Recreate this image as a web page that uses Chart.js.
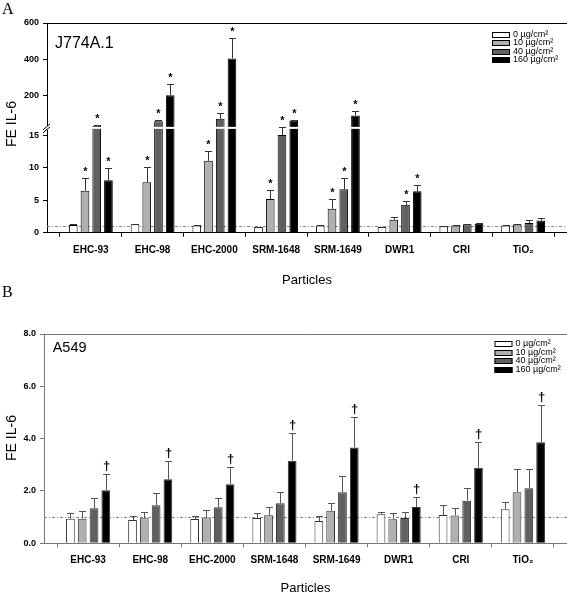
<!DOCTYPE html>
<html>
<head>
<meta charset="utf-8">
<script src="https://cdn.jsdelivr.net/npm/chart.js@4.4.0/dist/chart.umd.min.js"></script>
<style>
  body { margin: 0; background: #fff; width: 567px; height: 594px; position: relative; overflow: hidden; }
  .letter { position: absolute; left: 2px; font-family: "Liberation Serif", "Times New Roman", serif; font-size: 16px; line-height: 16px; }
  canvas { position: absolute; left: 0; }
</style>
</head>
<body>
<div class="letter" style="top:1px">A</div>
<canvas id="chartA" width="567" height="290" style="top:0"></canvas>
<div class="letter" style="top:284px">B</div>
<canvas id="chartB" width="567" height="308" style="top:290px"></canvas>
<script>
// categories and doses
const particles = ['EHC-93', 'EHC-98', 'EHC-2000', 'SRM-1648', 'SRM-1649', 'DWR1', 'CRI', 'TiO\u2082'];
const doses = ['0 \u00b5g/cm\u00b2', '10 \u00b5g/cm\u00b2', '40 \u00b5g/cm\u00b2', '160 \u00b5g/cm\u00b2'];
const doseColors = ['#ffffff', '#b0b0b0', '#606060', '#000000'];

// panel A - J774A.1 (fold change IL-6)
const j774_0   = [1.2, 1.3, 1.1, 0.9, 1.1, 0.9, 1.0, 1.1];
const j774_10  = [6.5, 7.8, 11.1, 5.2, 3.7, 2.0, 1.1, 1.25];
const j774_40  = [31, 57, 70, 15.1, 6.7, 4.3, 1.3, 1.5];
const j774_160 = [8.1, 200, 404, 61, 89, 6.4, 1.4, 1.9];
const j774Err_0   = [0.1, 0.1, 0.05, 0.05, 0.05, 0.05, 0.05, 0.1];
const j774Err_10  = [1.9, 2.3, 1.6, 1.4, 1.5, 0.5, 0.05, 0.1];
const j774Err_40  = [2, 9, 33, 12, 1.8, 0.6, 0.1, 0.4];
const j774Err_160 = [1.9, 65, 111, 5, 24, 0.9, 0.1, 0.3];
const j774Star_0   = [0, 0, 0, 0, 0, 0, 0, 0];
const j774Star_10  = [1, 1, 1, 1, 1, 0, 0, 0];
const j774Star_40  = [1, 1, 1, 1, 1, 1, 0, 0];
const j774Star_160 = [1, 1, 1, 1, 1, 1, 0, 0];
const j774LowTicks  = [0, 5, 10, 15];
const j774HighTicks = [200, 400, 600];

// panel B - A549
const a549_0   = [0.94, 0.89, 0.93, 0.97, 0.85, 1.11, 1.08, 1.30];
const a549_10  = [0.94, 0.96, 0.99, 1.07, 1.24, 0.92, 1.06, 1.95];
const a549_40  = [1.34, 1.45, 1.38, 1.53, 1.95, 0.97, 1.63, 2.10];
const a549_160 = [2.03, 2.45, 2.26, 3.16, 3.66, 1.39, 2.89, 3.86];
const a549Err_0   = [0.23, 0.17, 0.10, 0.18, 0.19, 0.10, 0.37, 0.29];
const a549Err_10  = [0.28, 0.23, 0.27, 0.32, 0.29, 0.23, 0.30, 0.88];
const a549Err_40  = [0.38, 0.46, 0.34, 0.44, 0.62, 0.24, 0.50, 0.73];
const a549Err_160 = [0.61, 0.71, 0.67, 1.04, 1.16, 0.39, 0.97, 1.42];
const a549Dag_0   = [0, 0, 0, 0, 0, 0, 0, 0];
const a549Dag_160 = [1, 1, 1, 1, 1, 1, 1, 1];

const LOW_MAX = 16.2, HIGH_MIN = 20;   // broken axis in panel A
const X_PAD = 0.21;                    // extra room either side of the categories
const FONT = '"Liberation Sans", Arial, sans-serif';

Chart.defaults.font.family = FONT;
Chart.defaults.color = '#000';

function toPix(chart, v) {
  const s = chart.scales;
  if (s.yLow) {
    if (v <= LOW_MAX) return s.yLow.getPixelForValue(v);
    if (v >= HIGH_MIN) return s.yHigh.getPixelForValue(v);
    return s.yLow.top;
  }
  return s.y.getPixelForValue(v);
}

function xAxis(axisColor, tickPad, height) {
  return {
    type: 'category',
    offset: true,
    grid: { offset: true, drawOnChartArea: false, tickLength: 4, tickColor: axisColor },
    border: { color: axisColor },
    ticks: { font: { weight: 'bold', size: 10 }, padding: tickPad, maxRotation: 0, autoSkip: false },
    title: { display: true, text: 'Particles', font: { size: 13 }, padding: { top: 0, bottom: 2 } },
    afterBuildTicks: s => { s._startValue = -0.5 - X_PAD; s._valueRange = s.ticks.length + 2 * X_PAD; },
    afterFit: s => { s.height = height; }
  };
}

function yAxis(axisColor, width, extra) {
  return Object.assign({
    type: 'linear',
    position: 'left',
    stacked: false,
    grid: { drawOnChartArea: false, tickLength: 4, tickColor: axisColor },
    border: { color: axisColor },
    ticks: { font: { weight: 'bold', size: 9 }, padding: 4 },
    afterFit: s => { s.width = width; }
  }, extra);
}

function makeDecor(cfg) {
  return {
    id: 'decor',
    beforeDatasetsDraw(chart) {
      const { ctx, chartArea: a } = chart;
      const y1 = Math.round(toPix(chart, 1)) + 0.5;
      ctx.save();
      ctx.strokeStyle = '#888';
      ctx.lineWidth = 1;
      ctx.setLineDash([3, 2, 1, 2]);
      ctx.beginPath(); ctx.moveTo(a.left, y1); ctx.lineTo(a.right, y1); ctx.stroke();
      ctx.restore();
    },
    afterDatasetsDraw(chart) {
      const { ctx, chartArea: a } = chart;
      ctx.save();
      if (chart.scales.yLow) {
        const gy = chart.scales.yLow.top;
        ctx.fillStyle = '#fff';
        ctx.fillRect(a.left + 1, gy - 1, a.right - a.left, 2);
      }
      ctx.strokeStyle = cfg.errColor;
      ctx.lineWidth = 1;
      cfg.series.forEach((vals, k) => {
        const meta = chart.getDatasetMeta(cfg.dsIndex(k));
        vals.forEach((v, i) => {
          const bar = meta.data[i];
          const x = Math.round(bar.x) + 0.5;
          const yb = toPix(chart, v);
          const yt = Math.round(toPix(chart, v + cfg.errors[k][i])) + 0.5;
          ctx.beginPath();
          ctx.moveTo(x, yb); ctx.lineTo(x, yt);
          ctx.moveTo(x - 3.5, yt); ctx.lineTo(x + 3.5, yt);
          ctx.stroke();
          if (cfg.marks[k][i]) {
            ctx.fillStyle = '#000';
            ctx.font = cfg.markFont;
            ctx.textAlign = 'center';
            ctx.textBaseline = 'middle';
            ctx.fillText(cfg.markChar, x, yt - cfg.markOffset);
          }
        });
      });
      ctx.restore();
    },
    afterDraw(chart) {
      const { ctx, chartArea: a } = chart;
      ctx.save();
      // top frame line
      ctx.strokeStyle = cfg.axisColor;
      ctx.lineWidth = 1;
      ctx.beginPath(); ctx.moveTo(a.left, a.top + 0.5); ctx.lineTo(a.right, a.top + 0.5); ctx.stroke();
      // axis break marks
      if (chart.scales.yLow) {
        const gy = chart.scales.yLow.top;
        const ax = a.left;
        ctx.fillStyle = '#fff';
        ctx.fillRect(ax - 1, gy - 2, 3, 4);
        ctx.strokeStyle = '#000';
        ctx.beginPath();
        ctx.moveTo(ax - 4, gy + 2); ctx.lineTo(ax + 3, gy - 4);
        ctx.moveTo(ax - 4, gy + 5); ctx.lineTo(ax + 3, gy - 1);
        ctx.stroke();
      }
      // cell line label
      ctx.fillStyle = '#000';
      ctx.font = cfg.labelFont;
      ctx.textAlign = 'left';
      ctx.textBaseline = 'alphabetic';
      ctx.fillText(cfg.label, cfg.labelX, cfg.labelY);
      // y title
      ctx.save();
      ctx.translate(12.5, cfg.yTitleY);
      ctx.rotate(-Math.PI / 2);
      ctx.textAlign = 'center';
      ctx.textBaseline = 'middle';
      ctx.font = '14px ' + FONT;
      ctx.fillText('FE IL-6', 0, 0);
      ctx.restore();
      // legend
      doses.forEach((d, k) => {
        const cy = Math.round(cfg.legY + k * cfg.legDy);
        ctx.fillStyle = doseColors[k];
        ctx.fillRect(cfg.legX, cy - 3, 18, 6);
        ctx.strokeStyle = '#000';
        ctx.strokeRect(cfg.legX + 0.5, cy - 2.5, 17, 5);
        ctx.fillStyle = '#000';
        ctx.font = '9px ' + FONT;
        ctx.textBaseline = 'middle';
        ctx.fillText(d, cfg.legX + 21, cy);
      });
      ctx.restore();
    }
  };
}

// ---------- panel A ----------
const seriesA = [j774_0, j774_10, j774_40, j774_160];
const datasetsA = [];
seriesA.forEach((vals, k) => {
  const style = { label: doses[k], stack: 's' + k, backgroundColor: doseColors[k], borderColor: '#000', borderWidth: 1 };
  datasetsA.push(Object.assign({ data: vals.map(v => Math.min(v, LOW_MAX)), yAxisID: 'yLow' }, style));
  datasetsA.push(Object.assign({ data: vals.map(v => v > HIGH_MIN ? [HIGH_MIN, v] : null), yAxisID: 'yHigh' }, style));
});

new Chart(document.getElementById('chartA'), {
  type: 'bar',
  data: { labels: particles, datasets: datasetsA },
  options: {
    responsive: false,
    animation: false,
    layout: { padding: { top: 23, left: 0, right: 0, bottom: 0 } },
    datasets: { bar: { categoryPercentage: 0.76, barPercentage: 0.74 } },
    plugins: { legend: { display: false }, tooltip: { enabled: false } },
    scales: {
      x: xAxis('#000', 8, 57.3),
      yLow: yAxis('#000', 47, {
        stack: 'j', stackWeight: 1, min: 0, max: LOW_MAX,
        afterBuildTicks: s => { s.ticks = j774LowTicks.map(v => ({ value: v })); }
      }),
      yHigh: yAxis('#000', 47, {
        stack: 'j', stackWeight: 1, min: HIGH_MIN, max: 600,
        afterBuildTicks: s => { s.ticks = j774HighTicks.map(v => ({ value: v })); }
      })
    }
  },
  plugins: [makeDecor({
    series: seriesA,
    errors: [j774Err_0, j774Err_10, j774Err_40, j774Err_160],
    marks: [j774Star_0, j774Star_10, j774Star_40, j774Star_160],
    dsIndex: k => 2 * k,
    markChar: '*', markFont: 'bold 11px ' + FONT, markOffset: 6.5,
    errColor: '#333', axisColor: '#000',
    label: 'J774A.1', labelFont: '16px ' + FONT, labelX: 55, labelY: 48,
    yTitleY: 124,
    legX: 492, legY: 34.5, legDy: 8.5
  })]
});

// ---------- panel B ----------
const seriesB = [a549_0, a549_10, a549_40, a549_160];
const datasetsB = seriesB.map((vals, k) => ({
  label: doses[k], data: vals, backgroundColor: doseColors[k], borderColor: '#333', borderWidth: 1
}));

new Chart(document.getElementById('chartB'), {
  type: 'bar',
  data: { labels: particles, datasets: datasetsB },
  options: {
    responsive: false,
    animation: false,
    layout: { padding: { top: 44, left: 0, right: 0, bottom: 0 } },
    datasets: { bar: { categoryPercentage: 0.76, barPercentage: 0.74 } },
    plugins: { legend: { display: false }, tooltip: { enabled: false } },
    scales: {
      x: xAxis('#777', 7, 54.7),
      y: yAxis('#777', 44, {
        min: 0, max: 8,
        ticks: { font: { weight: 'bold', size: 9 }, padding: 4, stepSize: 2, callback: v => v.toFixed(1) }
      })
    }
  },
  plugins: [makeDecor({
    series: seriesB,
    errors: [a549Err_0, a549Err_10, a549Err_40, a549Err_160],
    marks: [a549Dag_0, a549Dag_0, a549Dag_0, a549Dag_160],
    dsIndex: k => k,
    markChar: '\u2020', markFont: 'bold 13px ' + FONT, markOffset: 8,
    errColor: '#555', axisColor: '#777',
    label: 'A549', labelFont: '14.5px ' + FONT, labelX: 52.7, labelY: 62,
    yTitleY: 148,
    legX: 494.5, legY: 54, legDy: 8.5
  })]
});
</script>
</body>
</html>
